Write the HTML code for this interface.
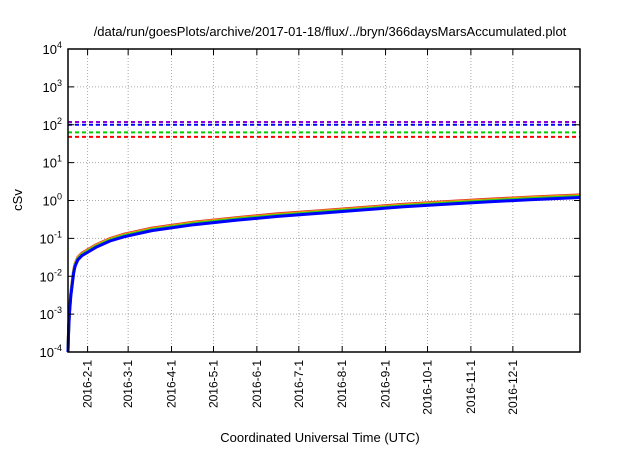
<!DOCTYPE html>
<html><head><meta charset="utf-8"><style>
body{margin:0;background:#fff}
svg text{font-family:"Liberation Sans",sans-serif;fill:#000}
</style></head><body>
<svg id="c" width="640" height="448" xmlns="http://www.w3.org/2000/svg">
<text x="330" y="36" font-size="13" text-anchor="middle">/data/run/goesPlots/archive/2017-01-18/flux/../bryn/366daysMarsAccumulated.plot</text>
<text x="320" y="442" font-size="13" text-anchor="middle">Coordinated Universal Time (UTC)</text>
<text transform="translate(22,200) rotate(-90)" font-size="13" text-anchor="middle">cSv</text>
<g id="grid"></g><g id="series"></g><g id="axes"></g>
</svg>
<script>
const monthLabels=["2016-2-1","2016-3-1","2016-4-1","2016-5-1","2016-6-1","2016-7-1","2016-8-1","2016-9-1","2016-10-1","2016-11-1","2016-12-1"];
const monthDays=[14,43,74,104,135,165,196,227,257,288,318];
const yExps=[-4,-3,-2,-1,0,1,2,3,4];
const curveDays=[0,0.5,1,2,3,4,5,7,10,15,20,30,40,60,90,120,150,180,210,240,270,300,330,366];
const blueVals=[1e-4,4e-4,1e-3,3e-3,6e-3,1.2e-2,1.8e-2,0.027,0.035,0.045,0.058,0.085,0.11,0.16,0.23,0.3,0.38,0.46,0.56,0.68,0.8,0.92,1.05,1.2];
const seriesScale=[1.17,1.12,1.06,1.0];
const seriesColors=["#e03030","#f0a000","#20d020","#0000ff"];
const limitVals=[118,100,63,48];
const limitColors=["#9400d3","#0000ff","#00d000","#ff0000"];
const L=68,R=580,T=49,B=352,ND=366;
const X=d=>L+(R-L)*d/ND;
const Y=v=>B-(B-T)*(Math.log10(v)+4)/8;
const ns="http://www.w3.org/2000/svg";
function mk(p,t,a){const e=document.createElementNS(ns,t);for(const k in a)e.setAttribute(k,a[k]);p.appendChild(e);return e;}
const g=document.getElementById('grid'),s=document.getElementById('series'),ax=document.getElementById('axes');
yExps.forEach(e=>{const y=Y(Math.pow(10,e));
 if(e>-4&&e<4){const l=mk(g,'line',{x1:L,x2:R,y1:y,y2:y,stroke:'#aaa','stroke-dasharray':'1,2','stroke-width':1});
 }
 const t1=mk(ax,'line',{x1:L,x2:L+6,y1:y,y2:y,stroke:'#000'});
 const t2=mk(ax,'line',{x1:R-6,x2:R,y1:y,y2:y,stroke:'#000'});
 const tx=mk(ax,'text',{x:L-6,y:y+5,'font-size':13,'text-anchor':'end'});
 
 tx.textContent='10';const sp=mk(tx,'tspan',{dy:-6,'font-size':9});sp.textContent=String(e);
});
monthDays.forEach((d,i)=>{const x=X(d);
 const l=mk(g,'line',{x1:x,x2:x,y1:T,y2:B,stroke:'#aaa','stroke-dasharray':'1,2'});
 
 const t1=mk(ax,'line',{x1:x,x2:x,y1:B-6,y2:B,stroke:'#000'});
 const t2=mk(ax,'line',{x1:x,x2:x,y1:T,y2:T+6,stroke:'#000'});
 const tx=mk(ax,'text',{transform:`translate(${x+4},360) rotate(-90)`,'font-size':12,'text-anchor':'end'});
 tx.textContent=monthLabels[i];
});
limitVals.forEach((v,i)=>{const y=Y(v);
 const l=mk(s,'line',{x1:L,x2:R,y1:y,y2:y,stroke:limitColors[i],'stroke-width':2,'stroke-dasharray':'4,3'});
 });
seriesScale.forEach((k,i)=>{const pts=curveDays.map((d,j)=>X(d).toFixed(1)+','+Y(blueVals[j]*k).toFixed(1)).join(' ');
 const p=mk(s,'polyline',{points:pts,fill:'none',stroke:seriesColors[i],'stroke-width':3});
 });
const f=mk(ax,'rect',{x:L,y:T,width:R-L,height:B-T,fill:'none',stroke:'#000','stroke-width':1.5});

</script>
</body></html>
